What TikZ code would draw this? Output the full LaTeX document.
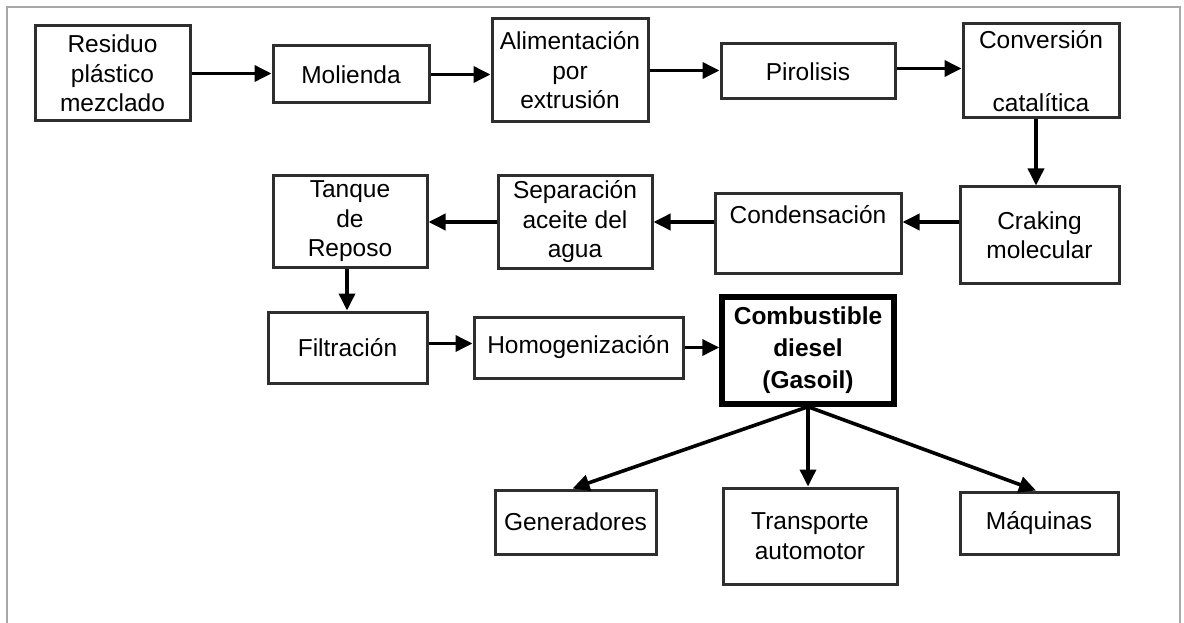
\documentclass[tikz,border=0pt]{standalone}
\usepackage{fontspec}
\setmainfont{Liberation Sans}
\usetikzlibrary{arrows.meta}
\definecolor{boxline}{HTML}{2E2E2E}
\definecolor{framegray}{HTML}{A8A8A8}
\tikzset{
  pbox/.style={draw=boxline, line width=3pt, inner sep=0pt, align=center,
    font=\fontsize{24.5}{29.5}\selectfont, text=black},
  mainbox/.style={pbox, draw=black, line width=5.5pt,
    font=\bfseries\fontsize{24.5}{32}\selectfont},
  arr/.style={draw=black, line width=3.6pt, -{Triangle[length=17pt,width=16pt]}},
}
\newcommand{\bx}[6]{% name, left, top, right, bottom, style
  \node[#6, minimum width={(#4-#2)*1pt}, minimum height={(#5-#3)*1pt}]
    (#1) at ({(#2+#4)/2},{(#3+#5)/2})}
\begin{document}
\begin{tikzpicture}[x=1pt,y=-1pt]
\useasboundingbox (0,0) rectangle (1184,623);
\draw[framegray, line width=2.2pt] (7,640) -- (7,7) -- (1180,7) -- (1180,640);
% row 1
\bx{res}{35}{26}{190}{121}{pbox} {Residuo\\plástico\\mezclado};
\bx{mol}{273}{46}{429}{103}{pbox} {Molienda};
\bx{ali}{492}{19}{648}{122}{pbox} {Alimentación\\por\\extrusión};
\bx{pir}{721}{44}{895}{99}{pbox} {Pirolisis};
\bx{conv}{963}{24}{1119}{118}{pbox} {Conversión\\[33pt]catalítica};
% row 2
\bx{tan}{273}{176}{427}{267}{pbox} {Tanque\\de\\Reposo};
\bx{sep}{498}{176}{652}{268}{pbox} {Separación\\aceite del\\agua};
\bx{con}{715}{194}{901}{273}{pbox} {Condensación\\\strut};
\bx{cra}{960}{187}{1119}{283}{pbox} {Craking\\molecular};
% row 3
\bx{fil}{268}{312}{427}{383}{pbox} {Filtración};
\bx{hom}{474}{317}{683}{378}{pbox} {Homogenización};
\bx{comb}{722}{297}{894}{404}{mainbox} {Combustible\\diesel\\(Gasoil)};
% row 4
\bx{gen}{495}{490}{656}{554}{pbox} {Generadores};
\bx{tra}{723}{488}{897}{584}{pbox} {Transporte\\automotor};
\bx{maq}{960}{492}{1118}{554}{pbox} {Máquinas};
% connectors
\draw[arr] (res.east) -- (res.east -| mol.west);
\draw[arr] (mol.east) -- (mol.east -| ali.west);
\draw[arr] (ali.east) -- (ali.east -| pir.west);
\draw[arr] ([yshift=3pt]pir.east) -- ([yshift=3pt]pir.east -| conv.west);
\draw[arr] ([xshift=-5pt]conv.south) -- ([xshift=-5pt]conv.south |- cra.north);
\draw[arr] ([yshift=13pt]cra.west) -- ([yshift=13pt]cra.west -| con.east);
\draw[arr] (sep.east -| con.west) -- (sep.east);
\draw[arr] (sep.west) -- (sep.west -| tan.east);
\draw[arr] ([xshift=-3pt]tan.south) -- ([xshift=-3pt]tan.south |- fil.north);
\draw[arr] ([yshift=4pt]fil.east) -- ([yshift=4pt]fil.east -| hom.west);
\draw[arr] (hom.east) -- (hom.east -| comb.west);
\draw[arr] (comb.south) -- ([xshift=-3pt]gen.north);
\draw[arr] (comb.south) -- (comb.south |- tra.north);
\draw[arr] (comb.south) -- ([xshift=-3pt]maq.north);
\end{tikzpicture}
\end{document}
